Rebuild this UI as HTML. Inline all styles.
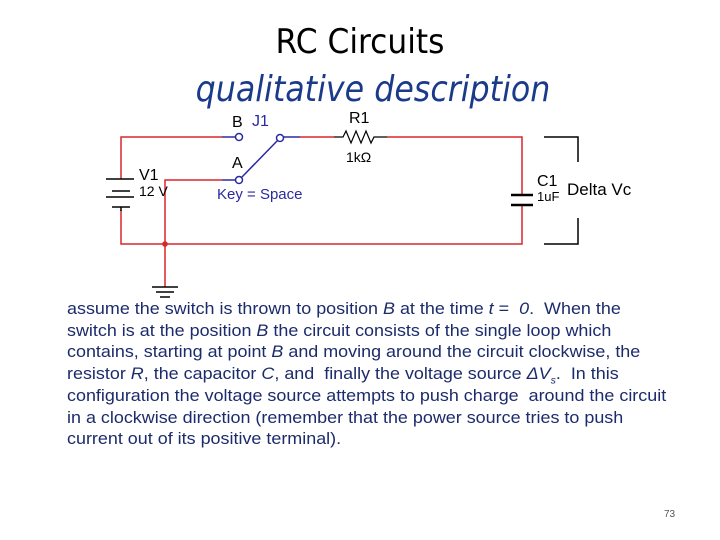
<!DOCTYPE html>
<html><head><meta charset="utf-8"><style>
body{margin:0;background:#fff;width:720px;height:540px;overflow:hidden;position:relative;font-family:"Liberation Sans",sans-serif}
.t{position:absolute;white-space:nowrap}
#txt{position:absolute;left:67px;top:298px;font-size:17px;line-height:21.7px;color:#1c2b6b;white-space:nowrap;transform-origin:0 0;transform:scaleX(1.055)}
sub{line-height:0;font-size:10px}
</style></head><body>
<div class="t" style="left:0;width:720px;text-align:center;top:22px;font-size:34px;color:#000;font-family:'DejaVu Sans',sans-serif;transform:scaleX(0.92)">RC Circuits</div>
<div class="t" style="left:0;width:746px;text-align:center;top:69px;font-size:36px;color:#1a3a8a;font-style:italic;font-family:'DejaVu Sans',sans-serif;transform:scaleX(0.88)">qualitative description</div>
<svg width="720" height="300" style="position:absolute;left:0;top:0" font-family="Liberation Sans, sans-serif">
<g fill="none" stroke-width="1.5">
<polyline points="121,179 121,137 222,137" stroke="#d9262c"/>
<line x1="222" y1="137" x2="236" y2="137" stroke="#2a2aa0"/>
<polyline points="165,287 165,180 222,180" stroke="#d9262c"/>
<line x1="222" y1="180" x2="236" y2="180" stroke="#2a2aa0"/>
<polyline points="121,210 121,244 522,244 522,205" stroke="#d9262c"/>
<polyline points="522,195 522,137 387,137" stroke="#d9262c"/>
<polyline points="300,137 334,137" stroke="#d9262c"/>
<line x1="283" y1="137" x2="300" y2="137" stroke="#2a2aa0"/>
<line x1="241" y1="178" x2="278" y2="140" stroke="#2a2aa0"/>
<circle cx="239" cy="137" r="3.5" stroke="#2a2aa0"/>
<circle cx="239" cy="180" r="3.5" stroke="#2a2aa0"/>
<circle cx="280" cy="138" r="3.5" stroke="#2a2aa0"/>
<polyline points="334,137 343,137 346,131 351,143 356,131 361,143 366,131 371,143 374,137 387,137" stroke="#000" stroke-width="1.2"/>
<g stroke="#000">
<line x1="106" y1="179" x2="134" y2="179"/><line x1="112" y1="191" x2="130" y2="191"/>
<line x1="106" y1="197" x2="134" y2="197"/><line x1="112" y1="207" x2="130" y2="207"/>
<line x1="121" y1="207" x2="121" y2="211"/>
<line x1="511" y1="195" x2="533" y2="195" stroke-width="2.5"/><line x1="511" y1="205" x2="533" y2="205" stroke-width="2.5"/>
<polyline points="544,137 578,137 578,162"/><polyline points="544,244 578,244 578,218"/>
<line x1="152" y1="287" x2="178" y2="287"/><line x1="156" y1="292" x2="174" y2="292"/><line x1="160" y1="297" x2="170" y2="297"/>
</g>
</g>
<circle cx="165" cy="244" r="2.8" fill="#d9262c"/>
<g font-size="16" fill="#000">
<text x="232" y="127">B</text><text x="232" y="168">A</text>
<text x="349" y="123">R1</text><text x="346" y="162" font-size="14">1kΩ</text>
<text x="139" y="180">V1</text><text x="139" y="196" font-size="14">12 V</text>
<text x="537" y="186">C1</text><text x="537" y="201" font-size="13">1uF</text>
<text x="567" y="195" font-size="17">Delta Vc</text>
<text x="252" y="126" fill="#2a2aa0">J1</text>
<text x="217" y="199" font-size="15" fill="#2a2aa0">Key = Space</text>
</g>
</svg>
<div id="txt">assume the switch is thrown to position <i>B</i> at the time <i>t</i> = &nbsp;<i>0</i>.&nbsp; When the<br>switch is at the position <i>B</i> the circuit consists of the single loop which<br>contains, starting at point <i>B</i> and moving around the circuit clockwise, the<br>resistor <i>R</i>, the capacitor <i>C</i>, and &nbsp;finally the voltage source <i>ΔV<sub>s</sub></i>.&nbsp; In this<br>configuration the voltage source attempts to push charge &nbsp;around the circuit<br>in a clockwise direction (remember that the power source tries to push<br>current out of its positive terminal).</div>
<div class="t" style="left:664px;top:509px;font-size:10px;color:#555">73</div>
</body></html>
